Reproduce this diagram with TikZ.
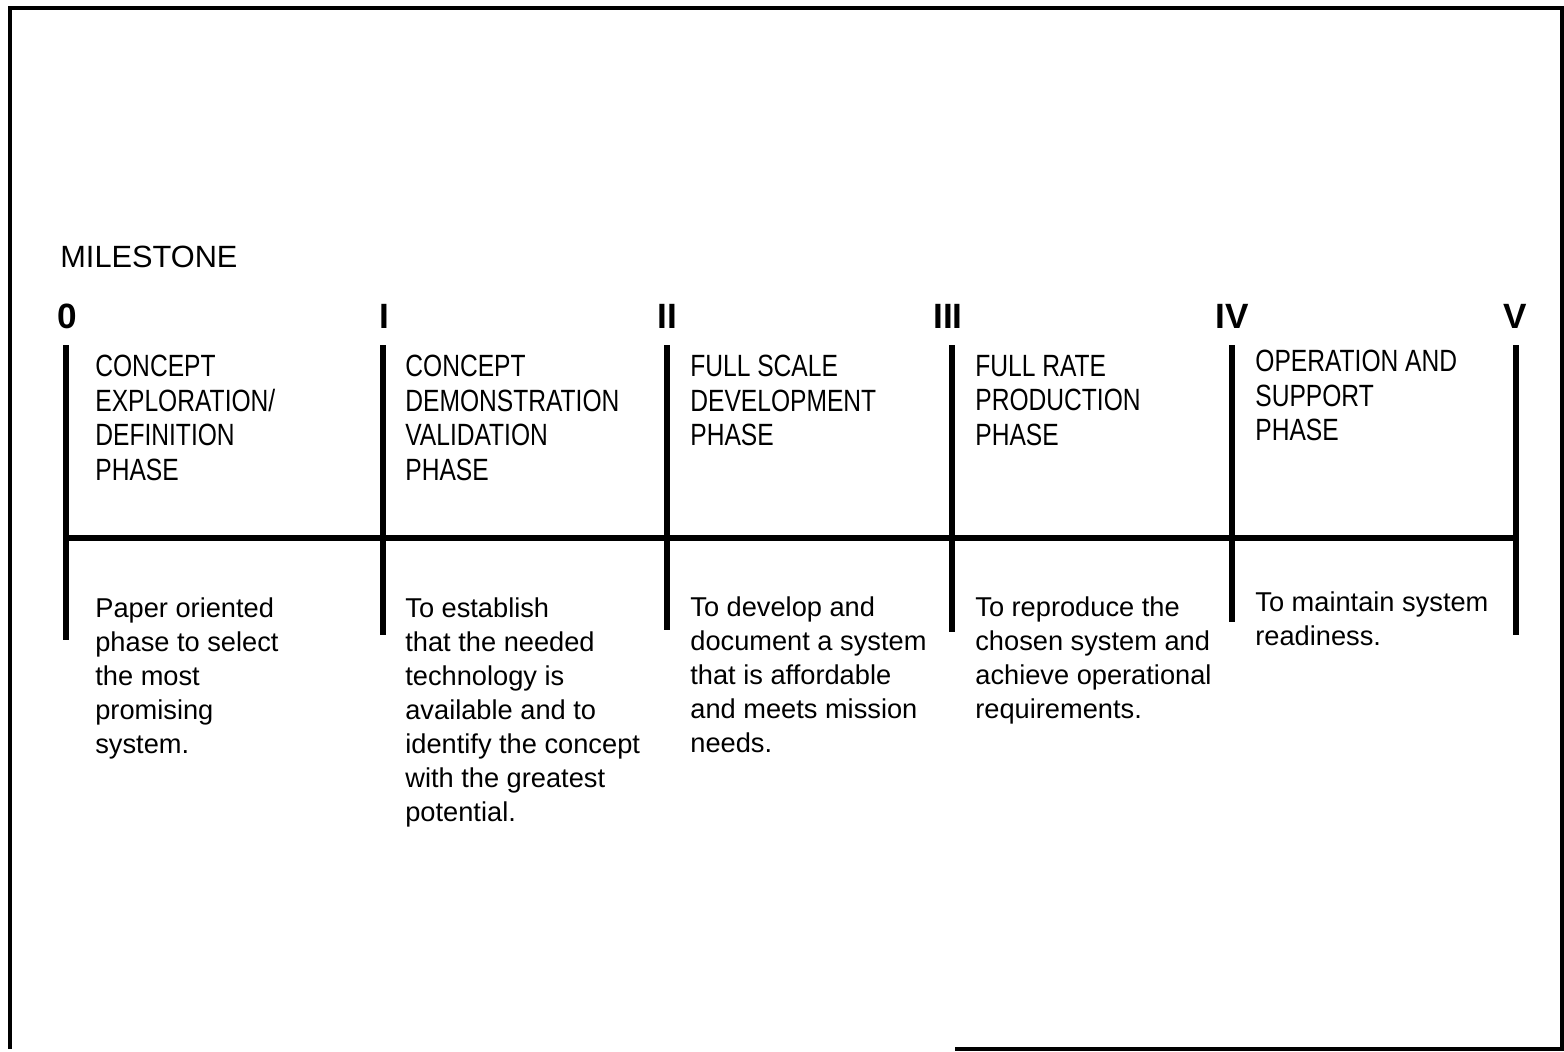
\documentclass[tikz,border=0pt]{standalone}
\usepackage{fontspec}
\setmainfont{Liberation Sans}
\newfontfamily\narrowfont{Liberation Sans}[FakeStretch=0.8]

\begin{document}
\begin{tikzpicture}[
        x=0.02cm, y=-0.02cm,
        phase/.style={anchor=north west, inner sep=0pt, align=left, font=\narrowfont\fontsize{17.5}{19.6}\selectfont},
        purpose/.style={anchor=north west, inner sep=0pt, align=left, font=\fontsize{15.5}{19.4}\selectfont},
        numeral/.style={anchor=base, inner sep=0pt, font=\bfseries\fontsize{20}{24}\selectfont},
        bar/.style={line width=3pt},
        frame/.style={line width=2.2pt}
    ]
        \useasboundingbox (0,0) rectangle (1564,1051);

        % outer frame
        \draw[frame] (955,1049) -- (1562,1049) -- (1562,8) -- (10,8) -- (10,1049);

        \node (title) [anchor=base west, inner sep=0pt, font=\fontsize{17.5}{20}\selectfont] at (60,267) {MILESTONE};

        \node (ms0) [numeral] at (67,328) {0};
        \node (ms1) [numeral] at (384,328) {I};
        \node (ms2) [numeral] at (667,328) {II};
        \node (ms3) [numeral] at (948,328) {III};
        \node (ms4) [numeral] at (1232,328) {IV};
        \node (ms5) [numeral] at (1515,328) {V};

        \coordinate (top0) at (66,345);   \coordinate (bot0) at (66,640);
        \coordinate (top1) at (383,345);  \coordinate (bot1) at (383,635);
        \coordinate (top2) at (667,345);  \coordinate (bot2) at (667,630);
        \coordinate (top3) at (952,345);  \coordinate (bot3) at (952,632);
        \coordinate (top4) at (1232,345); \coordinate (bot4) at (1232,622);
        \coordinate (top5) at (1516,345); \coordinate (bot5) at (1516,635);
        \coordinate (axisL) at (66,538);
        \coordinate (axisR) at (1516,538);

        \draw[bar] (top0) -- (bot0);
        \draw[bar] (top1) -- (bot1);
        \draw[bar] (top2) -- (bot2);
        \draw[bar] (top3) -- (bot3);
        \draw[bar] (top4) -- (bot4);
        \draw[bar] (top5) -- (bot5);
        \draw[bar] (axisL) -- (axisR);

        \node (ph0) [phase] at (95,355) {CONCEPT\\EXPLORATION/\\DEFINITION\\PHASE};
        \node (ph1) [phase] at (405,355) {CONCEPT\\DEMONSTRATION\\VALIDATION\\PHASE};
        \node (ph2) [phase] at (690,355) {FULL SCALE\\DEVELOPMENT\\PHASE};
        \node (ph3) [phase] at (975,355) {FULL RATE\\PRODUCTION\\PHASE};
        \node (ph4) [phase] at (1255,350) {OPERATION AND\\SUPPORT\\PHASE};

        \node (goal0) [purpose] at (95,597) {Paper oriented\\phase to select\\the most\\promising\\system.};
        \node (goal1) [purpose] at (405,597) {To establish\\that the needed\\technology is\\available and to\\identify the concept\\with the greatest\\potential.};
        \node (goal2) [purpose] at (690,596) {To develop and\\document a system\\that is affordable\\and meets mission\\needs.};
        \node (goal3) [purpose] at (975,596) {To reproduce the\\chosen system and\\achieve operational\\requirements.};
        \node (goal4) [purpose] at (1255,591) {To maintain system\\readiness.};

    \end{tikzpicture}
\end{document}
